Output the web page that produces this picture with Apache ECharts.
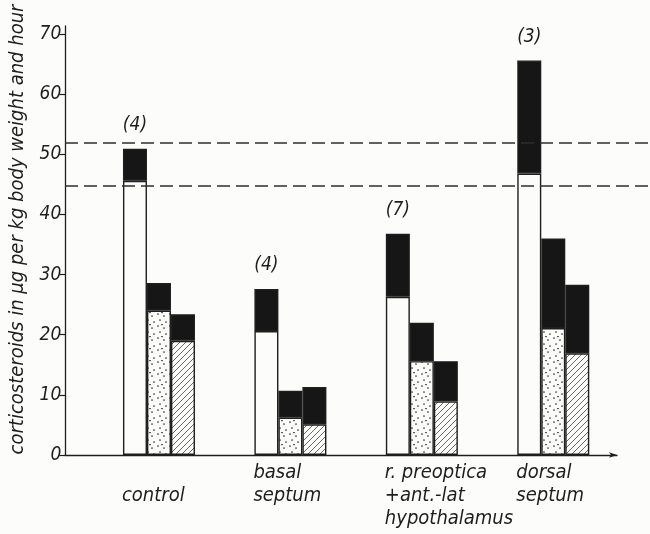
<!DOCTYPE html>
<html>
<head>
<meta charset="utf-8">
<script src="https://cdn.jsdelivr.net/npm/echarts@6/dist/echarts.min.js"></script>
<style>
  html, body { margin: 0; padding: 0; background: #fcfcfa; }
  #chart { width: 650px; height: 534px; }
</style>
</head>
<body>
<div id="chart"></div>
<script>
// Lesion regions along the x axis
var categories = ['control', 'basal\nseptum', 'r. preoptica\n+ant.-lat\nhypothalamus', 'dorsal\nseptum'];
// Number of animals per group
var animalCounts = [4, 4, 7, 3];

// Each region has three bars; every bar is a lower (open / dotted / hatched) part
// topped by a black part that reaches the bar's total height.
var openLower   = [45.6, 20.6, 26.3, 46.8];
var openTotal   = [50.9, 27.6, 36.8, 65.6];
var dottedLower = [24.0, 6.2, 15.6, 21.1];
var dottedTotal = [28.6, 10.7, 22.0, 36.0];
var hatchLower  = [19.0, 5.1, 8.9, 16.9];
var hatchTotal  = [23.4, 11.3, 15.6, 28.3];

// Reference band of control values (dashed lines)
var bandLines = [52.0, 44.7];

var yTicks = { min: 0, max: 70, interval: 10 };

var ink = '#1e1e1e';
var FONT = "'DejaVu Sans Condensed', 'DejaVu Sans', sans-serif";

function dotTile() {
  var c = document.createElement('canvas');
  c.width = 12; c.height = 12;
  var g = c.getContext('2d');
  g.fillStyle = '#fcfcfa';
  g.fillRect(0, 0, 12, 12);
  g.fillStyle = '#333';
  [[2, 2], [8, 4], [4, 8], [10, 10], [6, 0.5]].forEach(function (p) {
    g.beginPath();
    g.arc(p[0], p[1], 0.85, 0, Math.PI * 2);
    g.fill();
  });
  return c;
}

function hatchTile() {
  var s = 6;
  var c = document.createElement('canvas');
  c.width = s; c.height = s;
  var g = c.getContext('2d');
  g.fillStyle = '#fcfcfa';
  g.fillRect(0, 0, s, s);
  g.strokeStyle = '#444';
  g.lineWidth = 0.8;
  g.beginPath();
  g.moveTo(0, s); g.lineTo(s, 0);
  g.moveTo(-1, 1); g.lineTo(1, -1);
  g.moveTo(s - 1, s + 1); g.lineTo(s + 1, s - 1);
  g.stroke();
  return c;
}

function diff(total, lower) {
  return total.map(function (t, i) { return +(t - lower[i]).toFixed(2); });
}

var barStyle = function (fill) {
  return { color: fill, borderColor: ink, borderWidth: 1.4 };
};

function pair(name, lower, total, fill, withCounts) {
  var base = {
    name: name, type: 'bar', stack: name, barWidth: 24, barGap: '0%',
    xAxisIndex: 0, yAxisIndex: 0,
    data: lower, itemStyle: barStyle(fill), silent: true, animation: false
  };
  var top = {
    name: name + ' top', type: 'bar', stack: name, barWidth: 24, barGap: '0%',
    xAxisIndex: 0, yAxisIndex: 0,
    data: diff(total, lower), itemStyle: barStyle('#161616'), silent: true, animation: false
  };
  if (withCounts) {
    top.label = {
      show: true, position: 'top', distance: 14,
      formatter: function (p) { return '(' + animalCounts[p.dataIndex] + ')'; },
      fontFamily: FONT, fontStyle: 'italic', fontSize: 19, color: ink
    };
  }
  return [base, top];
}

var chart = echarts.init(document.getElementById('chart'), null, { renderer: 'canvas' });

var labelRich = {
  t: { width: 74, align: 'left', fontFamily: FONT, fontStyle: 'italic', fontSize: 20, lineHeight: 23, color: ink }
};

chart.setOption({
  backgroundColor: '#fcfcfa',
  animation: false,
  grid: [
    // bars
    { left: 93.25, right: 31, top: 34, bottom: 79 },
    // axis lines
    { left: 65, right: 33, top: 26, bottom: 79 },
    // dashed reference band
    { left: 65, right: 0, top: 34, bottom: 79 }
  ],
  xAxis: [
    {
      gridIndex: 0, type: 'category', data: categories,
      axisLine: { show: false }, axisTick: { show: false },
      axisLabel: {
        interval: 0, margin: 6, align: 'center',
        formatter: function (name) {
          var lines = name.split('\n');
          if (lines.length === 1) lines.unshift('');
          return lines.map(function (l) { return '{t|' + l + '}'; }).join('\n');
        },
        rich: labelRich
      }
    },
    {
      gridIndex: 1, type: 'value', min: 0, max: 1,
      axisLine: { show: true, lineStyle: { color: ink, width: 1.3 }, symbol: ['none', 'arrow'], symbolSize: [4, 8] },
      axisTick: { show: false }, axisLabel: { show: false }, splitLine: { show: false }
    },
    {
      gridIndex: 2, type: 'value', min: 0, max: 1, show: false
    }
  ],
  yAxis: [
    {
      gridIndex: 0, type: 'value', min: yTicks.min, max: yTicks.max, interval: yTicks.interval,
      offset: 28,
      axisLine: { show: false },
      axisTick: { show: true, length: 6, lineStyle: { color: ink, width: 1.2 } },
      splitLine: { show: false },
      axisLabel: { margin: 4, fontFamily: FONT, fontStyle: 'italic', fontSize: 19, color: ink },
      name: 'corticosteroids in \u00b5g per kg body weight and hour',
      nameLocation: 'middle', nameRotate: 90, nameGap: 37,
      nameTextStyle: { fontFamily: FONT, fontStyle: 'italic', fontSize: 20, color: ink, padding: [0, 0, 0, 30] }
    },
    {
      gridIndex: 1, type: 'value', min: 0, max: 1,
      axisLine: { show: true, lineStyle: { color: ink, width: 1.3 } },
      axisTick: { show: false }, axisLabel: { show: false }, splitLine: { show: false }
    },
    {
      gridIndex: 2, type: 'value', min: yTicks.min, max: yTicks.max, show: false
    }
  ],
  series: [].concat(
    pair('open', openLower, openTotal, '#fcfcfa', true),
    pair('dotted', dottedLower, dottedTotal, { image: dotTile(), repeat: 'repeat' }, false),
    pair('hatched', hatchLower, hatchTotal, { image: hatchTile(), repeat: 'repeat' }, false),
    [{
      type: 'line', xAxisIndex: 2, yAxisIndex: 2, data: [], silent: true,
      markLine: {
        silent: true, symbol: ['none', 'none'], label: { show: false },
        lineStyle: { color: '#2e2e2e', width: 1.6, type: [13, 6] },
        data: bandLines.map(function (v) { return { yAxis: v }; })
      }
    }]
  )
});
</script>
</body>
</html>
